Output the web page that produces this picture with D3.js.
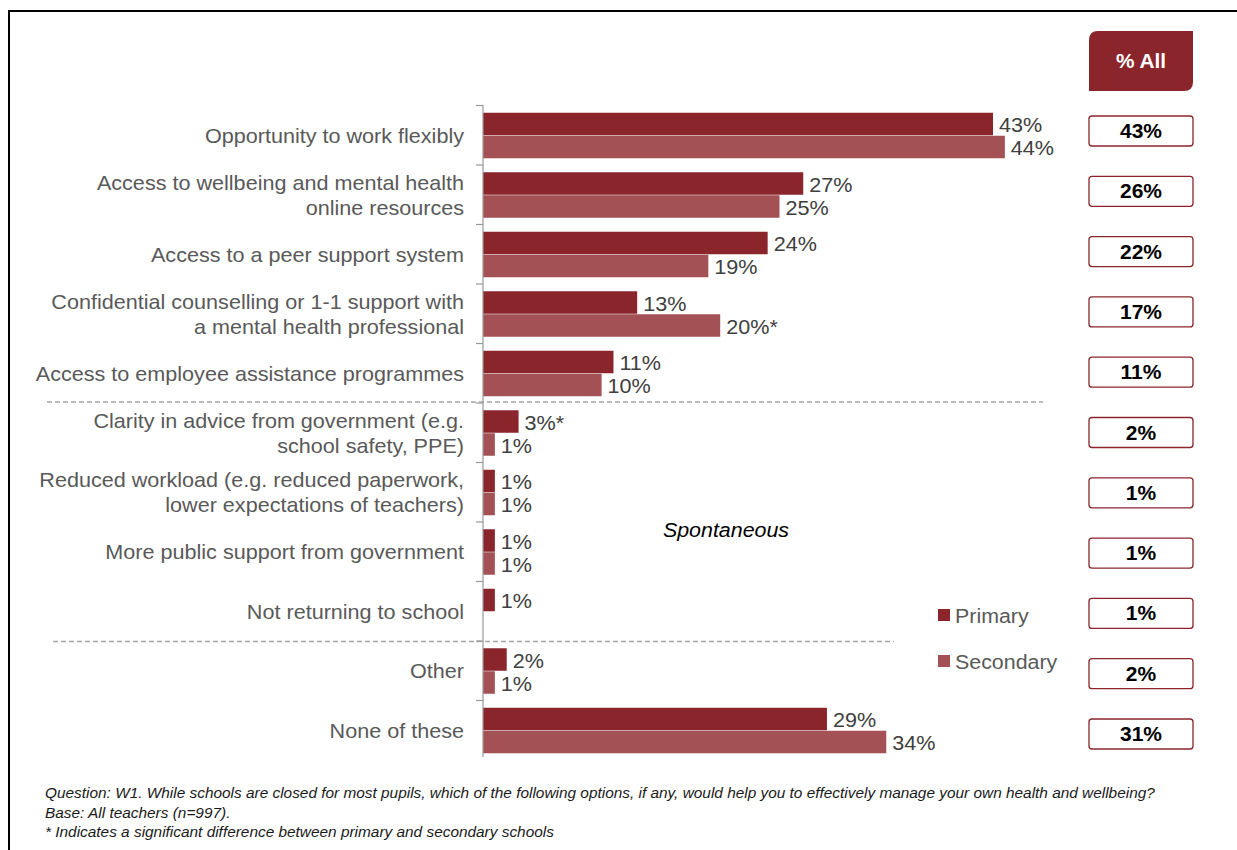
<!DOCTYPE html>
<html><head><meta charset="utf-8">
<script src="https://cdn.jsdelivr.net/npm/d3@7"></script>
<style>html,body{margin:0;padding:0;background:#fff;}svg{display:block;font-family:"Liberation Sans",Arial,sans-serif;}</style>
</head><body><svg id="c" width="1237" height="850"></svg>
<script>
const categories = [
  "Opportunity to work flexibly",
  "Access to wellbeing and mental health|online resources",
  "Access to a peer support system",
  "Confidential counselling or 1-1 support with|a mental health professional",
  "Access to employee assistance programmes",
  "Clarity in advice from government (e.g.|school safety, PPE)",
  "Reduced workload (e.g. reduced paperwork,|lower expectations of teachers)",
  "More public support from government",
  "Not returning to school",
  "Other",
  "None of these"
];
const primary   = [43, 27, 24, 13, 11, 3, 1, 1, 1, 2, 29];
const secondary = [44, 25, 19, 20, 10, 1, 1, 1, null, 1, 34];
const primaryLabels   = ["43%","27%","24%","13%","11%","3%*","1%","1%","1%","2%","29%"];
const secondaryLabels = ["44%","25%","19%","20%*","10%","1%","1%","1%","","1%","34%"];
const allValues = ["43%","26%","22%","17%","11%","2%","1%","1%","1%","2%","31%"];
const seriesNames = ["Primary","Secondary"];
const footnotes = [
  "Question: W1. While schools are closed for most pupils, which of the following options, if any, would help you to effectively manage your own health and wellbeing?",
  "Base: All teachers (n=997).",
  "* Indicates a significant difference between primary and secondary schools"
];

const colP = "#8a252b", colS = "#a35155", textCol = "#595959";
const svg = d3.select("#c");

function txt(parent, x, y, s, opts) {
  const sx = opts.sx || 1;
  const t = parent.append("text")
    .attr("transform", `translate(${x},${y}) scale(${sx},1)`)
    .attr("font-size", opts.size)
    .attr("fill", opts.fill || "#000")
    .attr("text-anchor", opts.anchor || "start")
    .text(s);
  if (opts.bold) t.attr("font-weight", "bold");
  if (opts.italic) t.attr("font-style", "italic");
  return t;
}

// frame
svg.append("path").attr("d","M9,852V11H1240").attr("fill","none").attr("stroke","#000").attr("stroke-width",2);

const x = d3.scaleLinear().domain([0, 43]).range([483, 993]);
const y = d3.scaleBand().domain(categories).range([105.5, 760]);
const bw = y.bandwidth();
const barH = 23;
const inner = d3.scaleBand().domain(seriesNames).range([(bw-2*barH)/2 + 0.5, (bw+2*barH)/2 + 0.5]);

// dashed separators
svg.append("line").attr("x1",47).attr("x2",1043).attr("y1",y(categories[5])-1).attr("y2",y(categories[5])-1)
  .attr("stroke","#a6a6a6").attr("stroke-width",1.3).attr("stroke-dasharray","5,3");
svg.append("line").attr("x1",53).attr("x2",894).attr("y1",y(categories[9])+0.5).attr("y2",y(categories[9])+0.5)
  .attr("stroke","#a6a6a6").attr("stroke-width",1.3).attr("stroke-dasharray","5,3");

// bars
const g = svg.append("g");
categories.forEach((c,i)=>{
  const yy = y(c);
  if (primary[i] != null) {
    g.append("rect").attr("x",x(0)).attr("y",yy+inner("Primary")).attr("width",x(primary[i])-x(0)).attr("height",barH-0.5).attr("fill",colP);
    txt(g, x(primary[i])+6, yy+inner("Primary")+barH/2+8, primaryLabels[i], {size:20, sx:1.08, fill:"#404040"});
  }
  if (secondary[i] != null) {
    g.append("rect").attr("x",x(0)).attr("y",yy+inner("Secondary")).attr("width",x(secondary[i])-x(0)).attr("height",barH-0.5).attr("fill",colS);
    txt(g, x(secondary[i])+6, yy+inner("Secondary")+barH/2+8, secondaryLabels[i], {size:20, sx:1.08, fill:"#404040"});
  }
  const lines = c.split("|");
  const cy = yy + bw/2;
  const lh = 25;
  lines.forEach((l,j)=>{
    txt(g, 464, cy - (lines.length-1)*lh/2 + j*lh + 7.5, l, {size:20, sx:1.08, fill:textCol, anchor:"end"});
  });
});

// axis line and ticks at band boundaries
svg.append("line").attr("x1",483).attr("x2",483).attr("y1",105).attr("y2",757).attr("stroke","#999").attr("stroke-width",1.2);
categories.map(c=>y(c)).forEach(b=>{
  svg.append("line").attr("x1",476).attr("x2",483).attr("y1",b).attr("y2",b).attr("stroke","#999").attr("stroke-width",1.2);
});

// % All header
const hx=1089, hw=104, hy=31, hh=60, r=9;
svg.append("path").attr("d",`M${hx},${hy+r}Q${hx},${hy} ${hx+r},${hy}H${hx+hw}V${hy+hh-r}Q${hx+hw},${hy+hh} ${hx+hw-r},${hy+hh}H${hx}Z`).attr("fill",colP);
txt(svg, hx+hw/2, hy+hh/2+7, "% All", {size:20, sx:1.04, fill:"#fff", bold:true, anchor:"middle"});

// % All boxes
const by = d3.scalePoint().domain(categories).range([131, 734]);
categories.forEach((c,i)=>{
  const cy = by(c);
  svg.append("rect").attr("x",hx).attr("y",cy-15).attr("width",hw).attr("height",30).attr("rx",3)
    .attr("fill","#fff").attr("stroke","#8a252b").attr("stroke-width",1.3);
  txt(svg, hx+hw/2, cy+7, allValues[i], {size:20, sx:1.05, fill:"#000", bold:true, anchor:"middle"});
});

// legend
[[colP, seriesNames[0], 609],[colS, seriesNames[1], 655]].forEach(([col,name,ly])=>{
  svg.append("rect").attr("x",938).attr("y",ly).attr("width",12).attr("height",12).attr("fill",col);
  txt(svg, 955, ly+14, name, {size:20, sx:1.07, fill:textCol});
});

// Spontaneous
txt(svg, 726, 537, "Spontaneous", {size:20, sx:1.07, fill:"#000", italic:true, anchor:"middle"});

// footnotes
footnotes.forEach((f,i)=>{
  txt(svg, 45, 798+i*19.5, f, {size:14, sx:1.1, fill:"#1a1a1a", italic:true});
});
</script></body></html>
